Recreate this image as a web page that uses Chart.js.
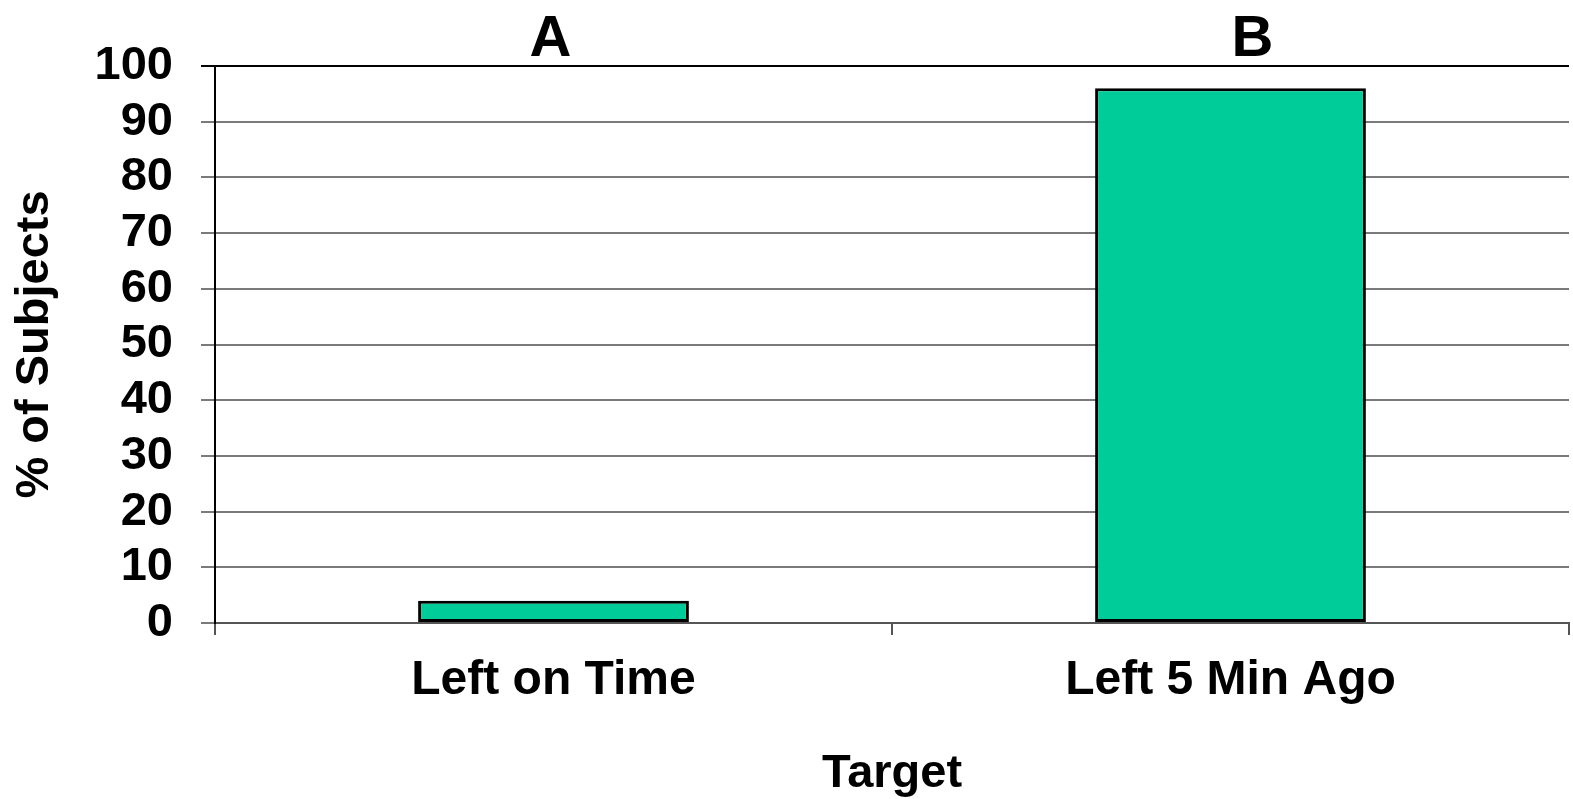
<!DOCTYPE html>
<html>
<head>
<meta charset="utf-8">
<script src="https://cdn.jsdelivr.net/npm/chart.js@4/dist/chart.umd.min.js"></script>
<style>
  html, body { margin: 0; padding: 0; background: #fff; }
  #wrap { width: 1573px; height: 799px; }
</style>
</head>
<body>
<div id="wrap"><canvas id="c" width="1573" height="799"></canvas></div>
<script>
// Share of subjects choosing each target
const categories = ['Left on Time', 'Left 5 Min Ago'];
const percentSubjects = [4, 96];
const panelLetters = ['A', 'B'];
const yTicks = [0, 10, 20, 30, 40, 50, 60, 70, 80, 90, 100];

const FONT = '"Liberation Sans", Arial, Helvetica, sans-serif';

// Letters placed above each category column
const panelLetterPlugin = {
  id: 'panelLetters',
  afterDraw(chart, args, opts) {
    const { ctx, scales } = chart;
    const x = scales.x;
    ctx.save();
    ctx.font = 'bold 58px ' + FONT;
    ctx.fillStyle = '#000';
    ctx.textAlign = 'center';
    ctx.textBaseline = 'alphabetic';
    panelLetters.forEach((letter, i) => {
      const px = x.getPixelForValue(i) + (opts.shift[i] || 0);
      ctx.fillText(letter, px, opts.baseline);
    });
    ctx.restore();
  }
};

new Chart(document.getElementById('c'), {
  type: 'bar',
  data: {
    labels: categories,
    datasets: [{
      data: percentSubjects,
      backgroundColor: '#00CC99',
      borderColor: '#000',
      borderWidth: 3,
      borderSkipped: false,
      barPercentage: 0.4,
      categoryPercentage: 1.0
    }]
  },
  options: {
    responsive: false,
    animation: false,
    devicePixelRatio: 1,
    layout: { padding: { top: 66, right: 4, left: 0, bottom: 0 } },
    plugins: {
      legend: { display: false },
      tooltip: { enabled: false },
      panelLetters: { baseline: 56, shift: [-3, 22] }
    },
    scales: {
      x: {
        grid: {
          offset: true,
          drawOnChartArea: false,
          drawTicks: true,
          tickLength: 12,
          color: '#555',
          lineWidth: 2
        },
        border: { display: true, color: '#555', width: 2 },
        ticks: {
          color: '#000',
          padding: 17,
          font: { family: FONT, size: 48, weight: 'bold' },
          maxRotation: 0
        },
        title: {
          display: true,
          text: 'Target',
          color: '#000',
          font: { family: FONT, size: 47, weight: 'bold' },
          padding: { top: 0, bottom: -3 }
        },
        afterFit(scale) { scale.height = 176; }
      },
      y: {
        min: 0,
        max: 100,
        afterBuildTicks(scale) { scale.ticks = yTicks.map(v => ({ value: v })); },
        grid: {
          color: ctx => (ctx.tick && ctx.tick.value === 100) ? '#000' : '#7a7a7a',
          lineWidth: 2,
          tickLength: 14,
          drawTicks: true
        },
        border: { display: true, color: '#000', width: 2 },
        ticks: {
          color: '#000',
          padding: 28,
          autoSkip: false,
          font: { family: FONT, size: 47, weight: 'bold' }
        },
        title: {
          display: true,
          text: '% of Subjects',
          color: '#000',
          font: { family: FONT, size: 47, weight: 'bold' },
          padding: { top: 7, bottom: 0 }
        },
        afterFit(scale) { scale.width = 215; }
      }
    }
  },
  plugins: [panelLetterPlugin]
});
</script>
</body>
</html>
